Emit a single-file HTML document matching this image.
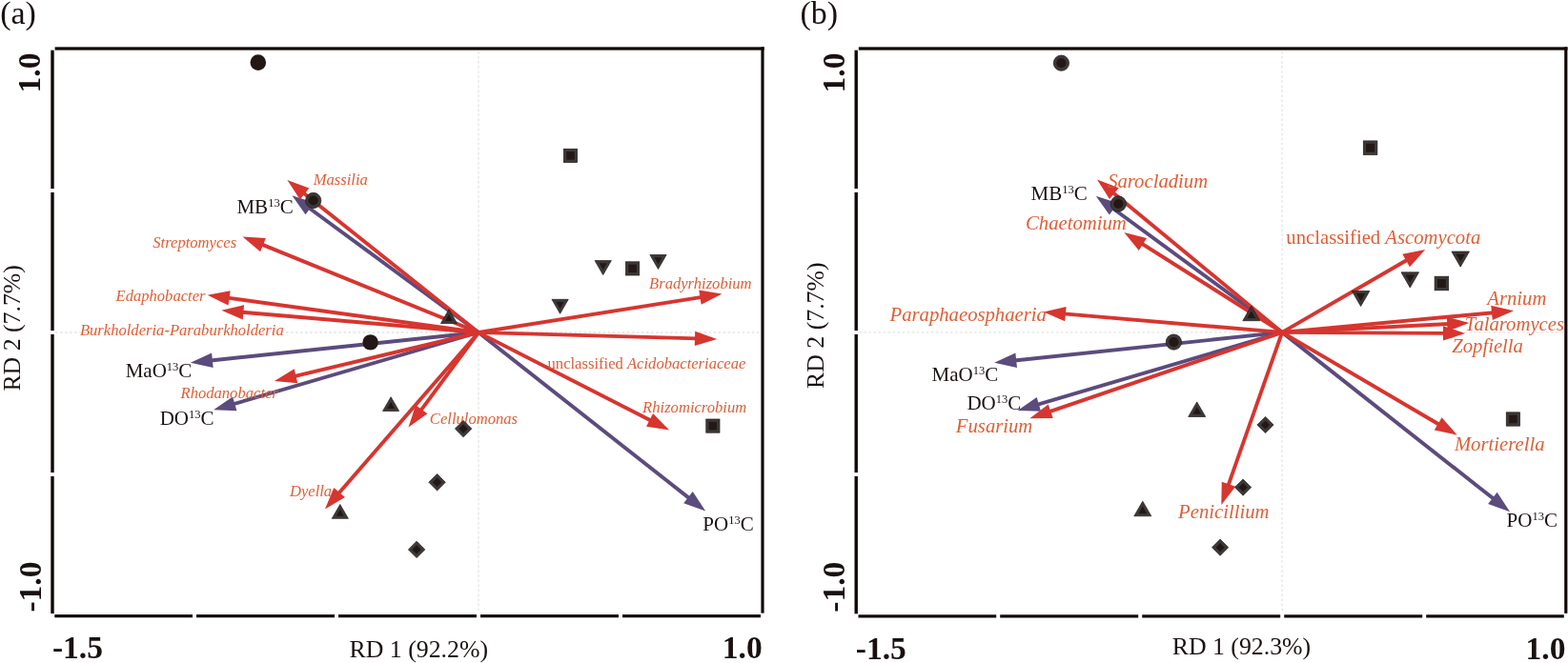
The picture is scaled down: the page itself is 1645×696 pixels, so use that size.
<!DOCTYPE html>
<html><head><meta charset="utf-8"><title>RDA plots</title>
<style>html,body{margin:0;padding:0;background:#fff;}svg{display:block;}</style>
</head><body>
<svg width="1645" height="696" viewBox="0 0 1645 696">
<rect width="1645" height="696" fill="#ffffff"/>
<g font-family="Liberation Serif, Times New Roman, serif">
<line x1="58" y1="349" x2="797" y2="349" stroke="#e2e4e4" stroke-width="1.3" stroke-dasharray="2.6 2.44"/>
<line x1="502" y1="54" x2="502" y2="643.7" stroke="#e2e4e4" stroke-width="1.3" stroke-dasharray="2.6 2.44"/>
<line x1="901.2" y1="348.9" x2="1639.8" y2="348.9" stroke="#e2e4e4" stroke-width="1.3" stroke-dasharray="2.6 2.44"/>
<line x1="1345.1" y1="54" x2="1345.1" y2="643.9" stroke="#e2e4e4" stroke-width="1.3" stroke-dasharray="2.6 2.44"/>
<line x1="502.00" y1="349.00" x2="323.48" y2="217.76" stroke="#5c4b7d" stroke-width="3.9"/>
<polygon points="306.40,205.20 329.65,212.74 320.53,225.15" fill="#5c4b7d"/>
<line x1="502.00" y1="349.00" x2="220.88" y2="378.49" stroke="#5c4b7d" stroke-width="3.9"/>
<polygon points="199.80,380.70 222.07,370.62 223.68,385.94" fill="#5c4b7d"/>
<line x1="502.00" y1="349.00" x2="244.35" y2="424.35" stroke="#5c4b7d" stroke-width="3.9"/>
<polygon points="224.00,430.30 244.11,416.40 248.43,431.18" fill="#5c4b7d"/>
<line x1="502.00" y1="349.00" x2="723.54" y2="523.39" stroke="#5c4b7d" stroke-width="3.9"/>
<polygon points="740.20,536.50 717.21,528.20 726.73,516.10" fill="#5c4b7d"/>
<line x1="502.00" y1="349.00" x2="317.97" y2="202.22" stroke="#d7352f" stroke-width="3.9"/>
<polygon points="301.40,189.00 324.34,197.45 314.74,209.49" fill="#d7352f"/>
<line x1="502.00" y1="349.00" x2="274.14" y2="256.38" stroke="#d7352f" stroke-width="3.9"/>
<polygon points="254.50,248.40 278.89,250.00 273.09,264.27" fill="#d7352f"/>
<line x1="502.00" y1="349.00" x2="238.60" y2="312.60" stroke="#d7352f" stroke-width="3.9"/>
<polygon points="217.60,309.70 241.64,305.25 239.53,320.50" fill="#d7352f"/>
<line x1="502.00" y1="349.00" x2="253.42" y2="327.62" stroke="#d7352f" stroke-width="3.9"/>
<polygon points="232.30,325.80 256.07,320.12 254.75,335.46" fill="#d7352f"/>
<line x1="502.00" y1="349.00" x2="308.52" y2="395.18" stroke="#d7352f" stroke-width="3.9"/>
<polygon points="287.90,400.10 308.68,387.22 312.25,402.20" fill="#d7352f"/>
<line x1="502.00" y1="349.00" x2="441.10" y2="431.35" stroke="#d7352f" stroke-width="3.9"/>
<polygon points="428.50,448.40 436.10,425.17 448.48,434.32" fill="#d7352f"/>
<line x1="502.00" y1="349.00" x2="354.80" y2="518.49" stroke="#d7352f" stroke-width="3.9"/>
<polygon points="340.90,534.50 350.30,511.93 361.93,522.03" fill="#d7352f"/>
<line x1="502.00" y1="349.00" x2="736.46" y2="311.91" stroke="#d7352f" stroke-width="3.9"/>
<polygon points="757.40,308.60 735.69,319.83 733.28,304.62" fill="#d7352f"/>
<line x1="502.00" y1="349.00" x2="731.01" y2="355.41" stroke="#d7352f" stroke-width="3.9"/>
<polygon points="752.20,356.00 728.79,363.05 729.22,347.65" fill="#d7352f"/>
<line x1="502.00" y1="349.00" x2="683.33" y2="441.75" stroke="#d7352f" stroke-width="3.9"/>
<polygon points="702.20,451.40 678.04,447.69 685.05,433.98" fill="#d7352f"/>
<line x1="1345.10" y1="348.90" x2="1166.80" y2="218.23" stroke="#5c4b7d" stroke-width="3.9"/>
<polygon points="1149.70,205.70 1172.96,213.20 1163.86,225.62" fill="#5c4b7d"/>
<line x1="1345.10" y1="348.90" x2="1064.18" y2="378.48" stroke="#5c4b7d" stroke-width="3.9"/>
<polygon points="1043.10,380.70 1065.37,370.61 1066.98,385.93" fill="#5c4b7d"/>
<line x1="1345.10" y1="348.90" x2="1087.93" y2="424.99" stroke="#5c4b7d" stroke-width="3.9"/>
<polygon points="1067.60,431.00 1087.66,417.03 1092.03,431.80" fill="#5c4b7d"/>
<line x1="1345.10" y1="348.90" x2="1567.45" y2="524.08" stroke="#5c4b7d" stroke-width="3.9"/>
<polygon points="1584.10,537.20 1561.11,528.89 1570.64,516.79" fill="#5c4b7d"/>
<line x1="1345.10" y1="348.90" x2="1167.34" y2="201.91" stroke="#d7352f" stroke-width="3.9"/>
<polygon points="1151.00,188.40 1173.79,197.25 1163.97,209.12" fill="#d7352f"/>
<line x1="1345.10" y1="348.90" x2="1197.22" y2="255.33" stroke="#d7352f" stroke-width="3.9"/>
<polygon points="1179.30,244.00 1203.02,249.90 1194.79,262.91" fill="#d7352f"/>
<line x1="1345.10" y1="348.90" x2="1115.92" y2="329.40" stroke="#d7352f" stroke-width="3.9"/>
<polygon points="1094.80,327.60 1118.57,321.89 1117.26,337.24" fill="#d7352f"/>
<line x1="1345.10" y1="348.90" x2="1100.36" y2="432.45" stroke="#d7352f" stroke-width="3.9"/>
<polygon points="1080.30,439.30 1099.77,424.52 1104.74,439.09" fill="#d7352f"/>
<line x1="1345.10" y1="348.90" x2="1288.34" y2="510.10" stroke="#d7352f" stroke-width="3.9"/>
<polygon points="1281.30,530.10 1281.74,505.66 1296.27,510.77" fill="#d7352f"/>
<line x1="1345.10" y1="348.90" x2="1476.86" y2="272.53" stroke="#d7352f" stroke-width="3.9"/>
<polygon points="1495.20,261.90 1478.99,280.20 1471.27,266.87" fill="#d7352f"/>
<line x1="1345.10" y1="348.90" x2="1566.99" y2="328.26" stroke="#d7352f" stroke-width="3.9"/>
<polygon points="1588.10,326.30 1565.71,336.12 1564.29,320.78" fill="#d7352f"/>
<line x1="1345.10" y1="348.90" x2="1520.23" y2="340.07" stroke="#d7352f" stroke-width="3.9"/>
<polygon points="1541.40,339.00 1518.62,347.86 1517.84,332.48" fill="#d7352f"/>
<line x1="1345.10" y1="348.90" x2="1516.00" y2="349.88" stroke="#d7352f" stroke-width="3.9"/>
<polygon points="1537.20,350.00 1513.96,357.57 1514.04,342.17" fill="#d7352f"/>
<line x1="1345.10" y1="348.90" x2="1510.42" y2="445.97" stroke="#d7352f" stroke-width="3.9"/>
<polygon points="1528.70,456.70 1504.79,451.59 1512.59,438.31" fill="#d7352f"/>
<text x="328.70" y="194.00" font-size="16.6" fill="#de5f36" font-style="italic">Massilia</text>
<text x="160.30" y="259.90" font-size="16.6" fill="#de5f36" font-style="italic">Streptomyces</text>
<text x="121.50" y="315.50" font-size="16.6" fill="#de5f36" font-style="italic">Edaphobacter</text>
<text x="83.90" y="351.50" font-size="16.6" fill="#de5f36" font-style="italic">Burkholderia-Paraburkholderia</text>
<text x="189.50" y="418.00" font-size="16.6" fill="#de5f36" font-style="italic">Rhodanobacter</text>
<text x="450.85" y="445.40" font-size="16.6" fill="#de5f36" font-style="italic">Cellulomonas</text>
<text x="303.95" y="521.10" font-size="16.6" fill="#de5f36" font-style="italic">Dyella</text>
<text x="681.05" y="302.60" font-size="16.6" fill="#de5f36" font-style="italic">Bradyrhizobium</text>
<text x="574.55" y="386.70" font-size="16.6" fill="#de5f36">unclassified <tspan font-style="italic">Acidobacteriaceae</tspan></text>
<text x="674.10" y="433.30" font-size="16.6" fill="#de5f36" font-style="italic">Rhizomicrobium</text>
<text x="248.45" y="223.70" font-size="21" fill="#1a1010">MB<tspan font-size="12.5" dy="-7">13</tspan><tspan dy="7">C</tspan></text>
<text x="131.70" y="395.50" font-size="21" fill="#1a1010">MaO<tspan font-size="12.5" dy="-7">13</tspan><tspan dy="7">C</tspan></text>
<text x="167.65" y="446.10" font-size="21" fill="#1a1010">DO<tspan font-size="12.5" dy="-7">13</tspan><tspan dy="7">C</tspan></text>
<text x="737.35" y="557.20" font-size="21" fill="#1a1010">PO<tspan font-size="12.5" dy="-7">13</tspan><tspan dy="7">C</tspan></text>
<text x="1162.15" y="196.60" font-size="20.7" fill="#de5f36" font-style="italic">Sarocladium</text>
<text x="1076.00" y="240.70" font-size="20.7" fill="#de5f36" font-style="italic">Chaetomium</text>
<text x="933.55" y="337.10" font-size="20.7" fill="#de5f36" font-style="italic">Paraphaeosphaeria</text>
<text x="1002.85" y="454.30" font-size="20.7" fill="#de5f36" font-style="italic">Fusarium</text>
<text x="1236.10" y="544.30" font-size="20.7" fill="#de5f36" font-style="italic">Penicillium</text>
<text x="1349.35" y="255.90" font-size="20.7" fill="#de5f36">unclassified <tspan font-style="italic">Ascomycota</tspan></text>
<text x="1560.30" y="319.80" font-size="20.7" fill="#de5f36" font-style="italic">Arnium</text>
<text x="1536.80" y="346.70" font-size="20.7" fill="#de5f36" font-style="italic">Talaromyces</text>
<text x="1523.20" y="369.70" font-size="20.7" fill="#de5f36" font-style="italic">Zopfiella</text>
<text x="1525.90" y="473.30" font-size="20.7" fill="#de5f36" font-style="italic">Mortierella</text>
<text x="1081.55" y="210.00" font-size="21" fill="#1a1010">MB<tspan font-size="12.5" dy="-7">13</tspan><tspan dy="7">C</tspan></text>
<text x="977.50" y="399.70" font-size="21" fill="#1a1010">MaO<tspan font-size="12.5" dy="-7">13</tspan><tspan dy="7">C</tspan></text>
<text x="1014.40" y="430.20" font-size="21" fill="#1a1010">DO<tspan font-size="12.5" dy="-7">13</tspan><tspan dy="7">C</tspan></text>
<text x="1580.60" y="552.80" font-size="21" fill="#1a1010">PO<tspan font-size="12.5" dy="-7">13</tspan><tspan dy="7">C</tspan></text>
<text x="0.20" y="24.50" font-size="34" fill="#1a1010">(a)</text>
<text x="839.50" y="24.50" font-size="34" fill="#1a1010">(b)</text>
<text x="54.95" y="691.30" font-size="33.5" fill="#1a1010" font-weight="bold">-1.5</text>
<text x="366.55" y="689.70" font-size="25.8" fill="#1a1010">RD 1 (92.2%)</text>
<text x="757.85" y="691.00" font-size="33.5" fill="#1a1010" font-weight="bold">1.0</text>
<text x="897.85" y="692.30" font-size="33.5" fill="#1a1010" font-weight="bold">-1.5</text>
<text x="1229.70" y="687.40" font-size="25.8" fill="#1a1010">RD 1 (92.3%)</text>
<text x="1600.55" y="691.90" font-size="33.5" fill="#1a1010" font-weight="bold">1.0</text>
<text x="42.50" y="97.40" font-size="33.5" fill="#1a1010" font-weight="bold" transform="rotate(-90 42.50 97.40)">1.0</text>
<text x="42.60" y="642.60" font-size="33.5" fill="#1a1010" font-weight="bold" transform="rotate(-90 42.60 642.60)">-1.0</text>
<text x="20.90" y="410.60" font-size="25.8" fill="#1a1010" transform="rotate(-90 20.90 410.60)">RD 2 (7.7%)</text>
<text x="885.80" y="97.40" font-size="33.5" fill="#1a1010" font-weight="bold" transform="rotate(-90 885.80 97.40)">1.0</text>
<text x="885.55" y="642.75" font-size="33.5" fill="#1a1010" font-weight="bold" transform="rotate(-90 885.55 642.75)">-1.0</text>
<text x="863.80" y="407.95" font-size="25.8" fill="#1a1010" transform="rotate(-90 863.80 407.95)">RD 2 (7.7%)</text>
<circle cx="270.8" cy="65.6" r="8.30" fill="#231815"/>
<circle cx="328.7" cy="210.5" r="8.15" fill="#3c3939" stroke="#231815" stroke-width="0.7"/>
<circle cx="328.7" cy="210.5" r="5.10" fill="#231815"/>
<circle cx="388.6" cy="359.4" r="8.20" fill="#231815"/>
<polygon points="471.00,324.73 479.54,339.53 462.46,339.53" fill="#3c3939" stroke="#231815" stroke-width="0.7"/>
<polygon points="471.00,330.03 474.95,336.88 467.05,336.88" fill="#231815"/>
<polygon points="410.10,416.73 418.64,431.53 401.56,431.53" fill="#3c3939" stroke="#231815" stroke-width="0.7"/>
<polygon points="410.10,422.03 414.05,428.88 406.15,428.88" fill="#231815"/>
<polygon points="356.80,529.53 365.34,544.33 348.26,544.33" fill="#3c3939" stroke="#231815" stroke-width="0.7"/>
<polygon points="356.80,534.83 360.75,541.68 352.85,541.68" fill="#231815"/>
<polygon points="486.1,441.39 494.81,450.1 486.1,458.81 477.39,450.1" fill="#3c3939" stroke="#231815" stroke-width="0.7"/>
<polygon points="486.1,445.42 490.78,450.1 486.1,454.78 481.42,450.1" fill="#231815"/>
<polygon points="458.6,497.59 467.31,506.3 458.6,515.01 449.89,506.3" fill="#3c3939" stroke="#231815" stroke-width="0.7"/>
<polygon points="458.6,501.62 463.28,506.3 458.6,510.98 453.92,506.3" fill="#231815"/>
<polygon points="437.1,568.19 445.81,576.9 437.1,585.61 428.39,576.9" fill="#3c3939" stroke="#231815" stroke-width="0.7"/>
<polygon points="437.1,572.22 441.78,576.9 437.1,581.58 432.42,576.9" fill="#231815"/>
<rect x="591.40" y="156.30" width="14.20" height="14.20" fill="#3c3939" stroke="#231815" stroke-width="0.7"/>
<rect x="594.25" y="159.15" width="8.50" height="8.50" fill="#231815"/>
<rect x="656.50" y="274.80" width="14.20" height="14.20" fill="#3c3939" stroke="#231815" stroke-width="0.7"/>
<rect x="659.35" y="277.65" width="8.50" height="8.50" fill="#231815"/>
<rect x="740.80" y="440.00" width="14.20" height="14.20" fill="#3c3939" stroke="#231815" stroke-width="0.7"/>
<rect x="743.65" y="442.85" width="8.50" height="8.50" fill="#231815"/>
<polygon points="632.70,288.58 641.34,273.61 624.06,273.61" fill="#3c3939" stroke="#231815" stroke-width="0.7"/>
<polygon points="632.70,283.28 636.75,276.26 628.65,276.26" fill="#231815"/>
<polygon points="690.50,282.48 699.14,267.51 681.86,267.51" fill="#3c3939" stroke="#231815" stroke-width="0.7"/>
<polygon points="690.50,277.18 694.55,270.16 686.45,270.16" fill="#231815"/>
<polygon points="587.60,329.28 596.24,314.31 578.96,314.31" fill="#3c3939" stroke="#231815" stroke-width="0.7"/>
<polygon points="587.60,323.98 591.65,316.96 583.55,316.96" fill="#231815"/>
<circle cx="1113.4" cy="66.2" r="8.15" fill="#3c3939" stroke="#231815" stroke-width="0.7"/>
<circle cx="1113.4" cy="66.2" r="5.10" fill="#231815"/>
<circle cx="1173.3" cy="214" r="8.15" fill="#3c3939" stroke="#231815" stroke-width="0.7"/>
<circle cx="1173.3" cy="214" r="5.10" fill="#231815"/>
<circle cx="1231.4" cy="359.1" r="8.15" fill="#3c3939" stroke="#231815" stroke-width="0.7"/>
<circle cx="1231.4" cy="359.1" r="5.10" fill="#231815"/>
<polygon points="1312.80,321.11 1321.79,336.69 1303.81,336.69" fill="#3c3939" stroke="#231815" stroke-width="0.7"/>
<polygon points="1312.80,326.41 1317.20,334.04 1308.40,334.04" fill="#231815"/>
<polygon points="1255.70,421.91 1264.69,437.49 1246.71,437.49" fill="#3c3939" stroke="#231815" stroke-width="0.7"/>
<polygon points="1255.70,427.21 1260.10,434.84 1251.30,434.84" fill="#231815"/>
<polygon points="1198.80,526.21 1207.79,541.79 1189.81,541.79" fill="#3c3939" stroke="#231815" stroke-width="0.7"/>
<polygon points="1198.80,531.51 1203.20,539.14 1194.40,539.14" fill="#231815"/>
<polygon points="1327.5,437.39 1336.11,446 1327.5,454.61 1318.89,446" fill="#3c3939" stroke="#231815" stroke-width="0.7"/>
<polygon points="1327.5,441.42 1332.08,446 1327.5,450.58 1322.92,446" fill="#231815"/>
<polygon points="1304.1,502.99 1312.71,511.6 1304.1,520.21 1295.49,511.6" fill="#3c3939" stroke="#231815" stroke-width="0.7"/>
<polygon points="1304.1,507.02 1308.68,511.6 1304.1,516.18 1299.52,511.6" fill="#231815"/>
<polygon points="1280.1,566.09 1288.71,574.7 1280.1,583.31 1271.49,574.7" fill="#3c3939" stroke="#231815" stroke-width="0.7"/>
<polygon points="1280.1,570.12 1284.68,574.7 1280.1,579.28 1275.52,574.7" fill="#231815"/>
<rect x="1430.30" y="147.90" width="14.60" height="14.60" fill="#3c3939" stroke="#231815" stroke-width="0.7"/>
<rect x="1433.15" y="150.75" width="8.90" height="8.90" fill="#231815"/>
<rect x="1505.10" y="290.20" width="14.60" height="14.60" fill="#3c3939" stroke="#231815" stroke-width="0.7"/>
<rect x="1507.95" y="293.05" width="8.90" height="8.90" fill="#231815"/>
<rect x="1580.25" y="432.85" width="14.30" height="14.30" fill="#3c3939" stroke="#231815" stroke-width="0.7"/>
<rect x="1583.10" y="435.70" width="8.60" height="8.60" fill="#231815"/>
<polygon points="1532.20,280.13 1541.49,264.03 1522.91,264.03" fill="#3c3939" stroke="#231815" stroke-width="0.7"/>
<polygon points="1532.20,274.83 1536.90,266.68 1527.50,266.68" fill="#231815"/>
<polygon points="1479.30,301.93 1488.59,285.83 1470.01,285.83" fill="#3c3939" stroke="#231815" stroke-width="0.7"/>
<polygon points="1479.30,296.63 1484.00,288.48 1474.60,288.48" fill="#231815"/>
<polygon points="1427.60,321.53 1436.89,305.43 1418.31,305.43" fill="#3c3939" stroke="#231815" stroke-width="0.7"/>
<polygon points="1427.60,316.23 1432.30,308.08 1422.90,308.08" fill="#231815"/>
<rect x="57.60" y="49.35" width="744.10" height="3.3" fill="#120707"/>
<rect x="798.40" y="49.35" width="3.2" height="594.30" fill="#120707"/>
<rect x="57.30" y="645.10" width="144.70" height="3.2" fill="#120707"/>
<rect x="206.00" y="645.10" width="145.00" height="3.2" fill="#120707"/>
<rect x="355.00" y="645.10" width="145.00" height="3.2" fill="#120707"/>
<rect x="504.00" y="645.10" width="145.00" height="3.2" fill="#120707"/>
<rect x="653.00" y="645.10" width="145.00" height="3.2" fill="#120707"/>
<rect x="53.30" y="52.70" width="3.4" height="145.40" fill="#120707"/>
<rect x="53.30" y="201.90" width="3.4" height="145.20" fill="#120707"/>
<rect x="53.30" y="350.90" width="3.4" height="145.20" fill="#120707"/>
<rect x="53.30" y="499.90" width="3.4" height="144.20" fill="#120707"/>
<rect x="900.80" y="49.35" width="743.70" height="3.3" fill="#120707"/>
<rect x="1641.20" y="49.35" width="3.2" height="594.50" fill="#120707"/>
<rect x="900.50" y="645.30" width="144.70" height="3.2" fill="#120707"/>
<rect x="1049.20" y="645.30" width="145.00" height="3.2" fill="#120707"/>
<rect x="1198.20" y="645.30" width="145.00" height="3.2" fill="#120707"/>
<rect x="1347.20" y="645.30" width="145.00" height="3.2" fill="#120707"/>
<rect x="1496.20" y="645.30" width="144.60" height="3.2" fill="#120707"/>
<rect x="896.50" y="52.70" width="3.4" height="145.40" fill="#120707"/>
<rect x="896.50" y="201.90" width="3.4" height="145.20" fill="#120707"/>
<rect x="896.50" y="350.90" width="3.4" height="145.20" fill="#120707"/>
<rect x="896.50" y="499.90" width="3.4" height="144.40" fill="#120707"/>
</g></svg>
</body></html>
